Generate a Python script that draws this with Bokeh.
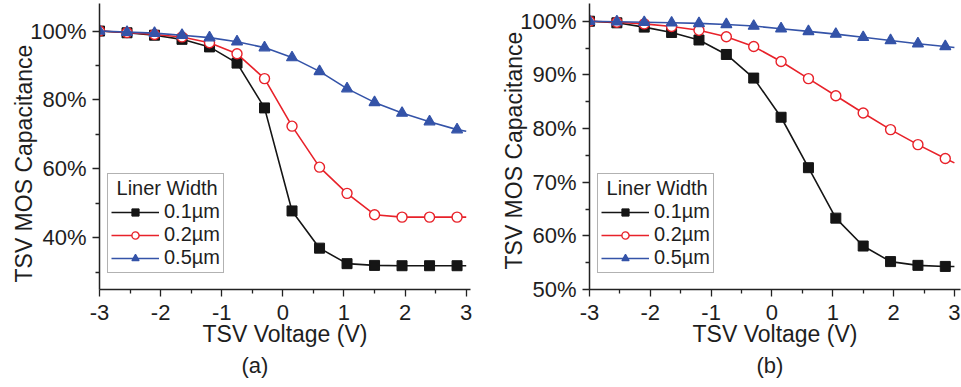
from bokeh.plotting import figure
from bokeh.layouts import row
from bokeh.models import Range1d, FixedTicker, PrintfTickFormatter, Legend, LegendItem, Title
from bokeh.embed import file_html
from bokeh.resources import INLINE

# ---- data ----
voltage = [-3.0, -2.55, -2.1, -1.65, -1.2, -0.75, -0.3, 0.15, 0.6, 1.05, 1.5, 1.95, 2.4, 2.85]
curve_end_v = 3.0

a_w01 = [100.0, 99.5, 98.8, 97.6, 95.4, 90.7, 77.7, 47.8, 37.0, 32.5, 32.0, 31.9, 31.9, 31.9]
a_w02 = [100.0, 99.6, 99.0, 98.3, 96.6, 93.4, 86.2, 72.4, 60.5, 52.9, 46.7, 46.0, 46.0, 46.0]
a_w05 = [100.0, 99.7, 99.4, 98.8, 98.1, 96.9, 95.2, 92.3, 88.3, 83.3, 79.3, 76.2, 73.7, 71.4]
a_end = [31.9, 46.0, 70.9]

b_w01 = [100.0, 99.7, 98.9, 97.9, 96.5, 93.8, 89.4, 82.1, 72.7, 63.3, 58.1, 55.2, 54.5, 54.3]
b_w02 = [100.0, 99.8, 99.5, 99.0, 98.3, 97.1, 95.3, 92.5, 89.3, 86.1, 82.9, 79.8, 77.0, 74.4]
b_w05 = [100.0, 99.9, 99.8, 99.7, 99.6, 99.4, 99.1, 98.6, 98.1, 97.6, 97.0, 96.4, 95.8, 95.3]
b_end = [54.3, 73.6, 95.1]

series_labels = ["0.1\u00b5m", "0.2\u00b5m", "0.5\u00b5m"]
legend_title = "\u00a0Liner Width"
x_label = "TSV Voltage (V)"
y_label = "TSV MOS Capacitance"
x_ticks = [-3, -2, -1, 0, 1, 2, 3]
x_minor = [-2.5, -1.5, -0.5, 0.5, 1.5, 2.5]
a_yticks = [40, 60, 80, 100]
a_yminor = [30, 50, 70, 90]
b_yticks = [50, 60, 70, 80, 90, 100]
b_yminor = [55, 65, 75, 85, 95]

FONT = "Liberation Sans"
TXT = "#1e1e1e"
COLORS = ["#151515", "#e8222a", "#3453a8"]


def panel(series, ends, yr, yticks, yminor, xend, caption, cap_offset, ylab_offset, bl, br, width):
    p = figure(width=width, height=387, x_range=Range1d(-3, xend), y_range=Range1d(*yr),
               output_backend="svg", toolbar_location=None,
               min_border_left=bl, min_border_right=br, min_border_top=3, min_border_bottom=98)
    p.outline_line_color = None
    p.grid.visible = False
    p.background_fill_color = "white"
    p.border_fill_color = "white"

    for ax in (p.xaxis[0], p.yaxis[0]):
        ax.axis_line_width = 1.5
        ax.axis_line_color = "#222222"
        ax.major_tick_line_color = "#222222"
        ax.minor_tick_line_color = "#222222"
        ax.major_tick_line_width = 1.3
        ax.minor_tick_line_width = 1.3
        ax.major_tick_in = 0
        ax.major_tick_out = 7
        ax.minor_tick_in = 0
        ax.minor_tick_out = 4
        ax.major_label_text_font = FONT
        ax.major_label_text_font_size = "22px"
        ax.major_label_text_color = TXT
        ax.axis_label_text_font = FONT
        ax.axis_label_text_font_size = "23px"
        ax.axis_label_text_font_style = "normal"
        ax.axis_label_text_color = TXT

    p.xaxis.ticker = FixedTicker(ticks=x_ticks, minor_ticks=x_minor)
    p.xaxis.formatter = PrintfTickFormatter(format="%d")
    p.yaxis.ticker = FixedTicker(ticks=yticks, minor_ticks=yminor)
    p.yaxis.formatter = PrintfTickFormatter(format="%d%%")
    p.xaxis.axis_label = x_label
    p.xaxis.major_label_standoff = 8
    p.xaxis.axis_label_standoff = -2
    p.yaxis.major_label_standoff = 6

    items = []
    markers = ["square", "circle", "triangle"]
    for i, ys in enumerate(series):
        c = COLORS[i]
        lr = p.line(voltage + [curve_end_v], ys + [ends[i]], line_color=c, line_width=1.6)
        if markers[i] == "square":
            sr = p.scatter(voltage, ys, marker="square", size=10, fill_color=c, line_color=c)
        elif markers[i] == "circle":
            sr = p.scatter(voltage, ys, marker="circle", size=10, fill_color="white", line_color=c, line_width=1.4)
        else:
            sr = p.scatter(voltage, ys, marker="triangle", size=11, fill_color=c, line_color=c, line_width=1.2)
        items.append(LegendItem(label=series_labels[i], renderers=[lr, sr]))

    leg = Legend(items=items, title=legend_title, location=(8, 16))
    leg.title_text_font = FONT
    leg.title_text_font_size = "20px"
    leg.title_text_font_style = "normal"
    leg.title_text_color = TXT
    leg.title_standoff = 0
    leg.label_text_font = FONT
    leg.label_text_font_size = "20px"
    leg.label_text_color = TXT
    leg.glyph_width = 48
    leg.glyph_height = 18
    leg.label_height = 18
    leg.label_standoff = 5
    leg.spacing = 0
    leg.padding = 3
    leg.margin = 0
    leg.border_line_color = "#666666"
    leg.border_line_width = 1.2
    leg.background_fill_color = "white"
    leg.background_fill_alpha = 1.0
    p.add_layout(leg)

    yt = Title(text=y_label, align="left", offset=ylab_offset, text_font=FONT,
               text_font_size="23px", text_font_style="normal", text_color=TXT, standoff=-18)
    p.add_layout(yt, "left")

    t = Title(text=caption, align="left", offset=cap_offset, text_font=FONT,
              text_font_size="22px", text_font_style="normal", text_color=TXT, standoff=2)
    p.add_layout(t, "below")
    return p


pa = panel([a_w01, a_w02, a_w05], a_end, (25, 108), a_yticks, a_yminor, 3.07, "(a)", 142, 7,
           99, 10, 480)
pb = panel([b_w01, b_w02, b_w05], b_end, (50, 103.3), b_yticks, b_yminor, 3.10, "(b)", 167, 20,
           109, 1, 481)

layout = row(pa, pb)
open("out.html", "w").write(file_html(layout, INLINE))
